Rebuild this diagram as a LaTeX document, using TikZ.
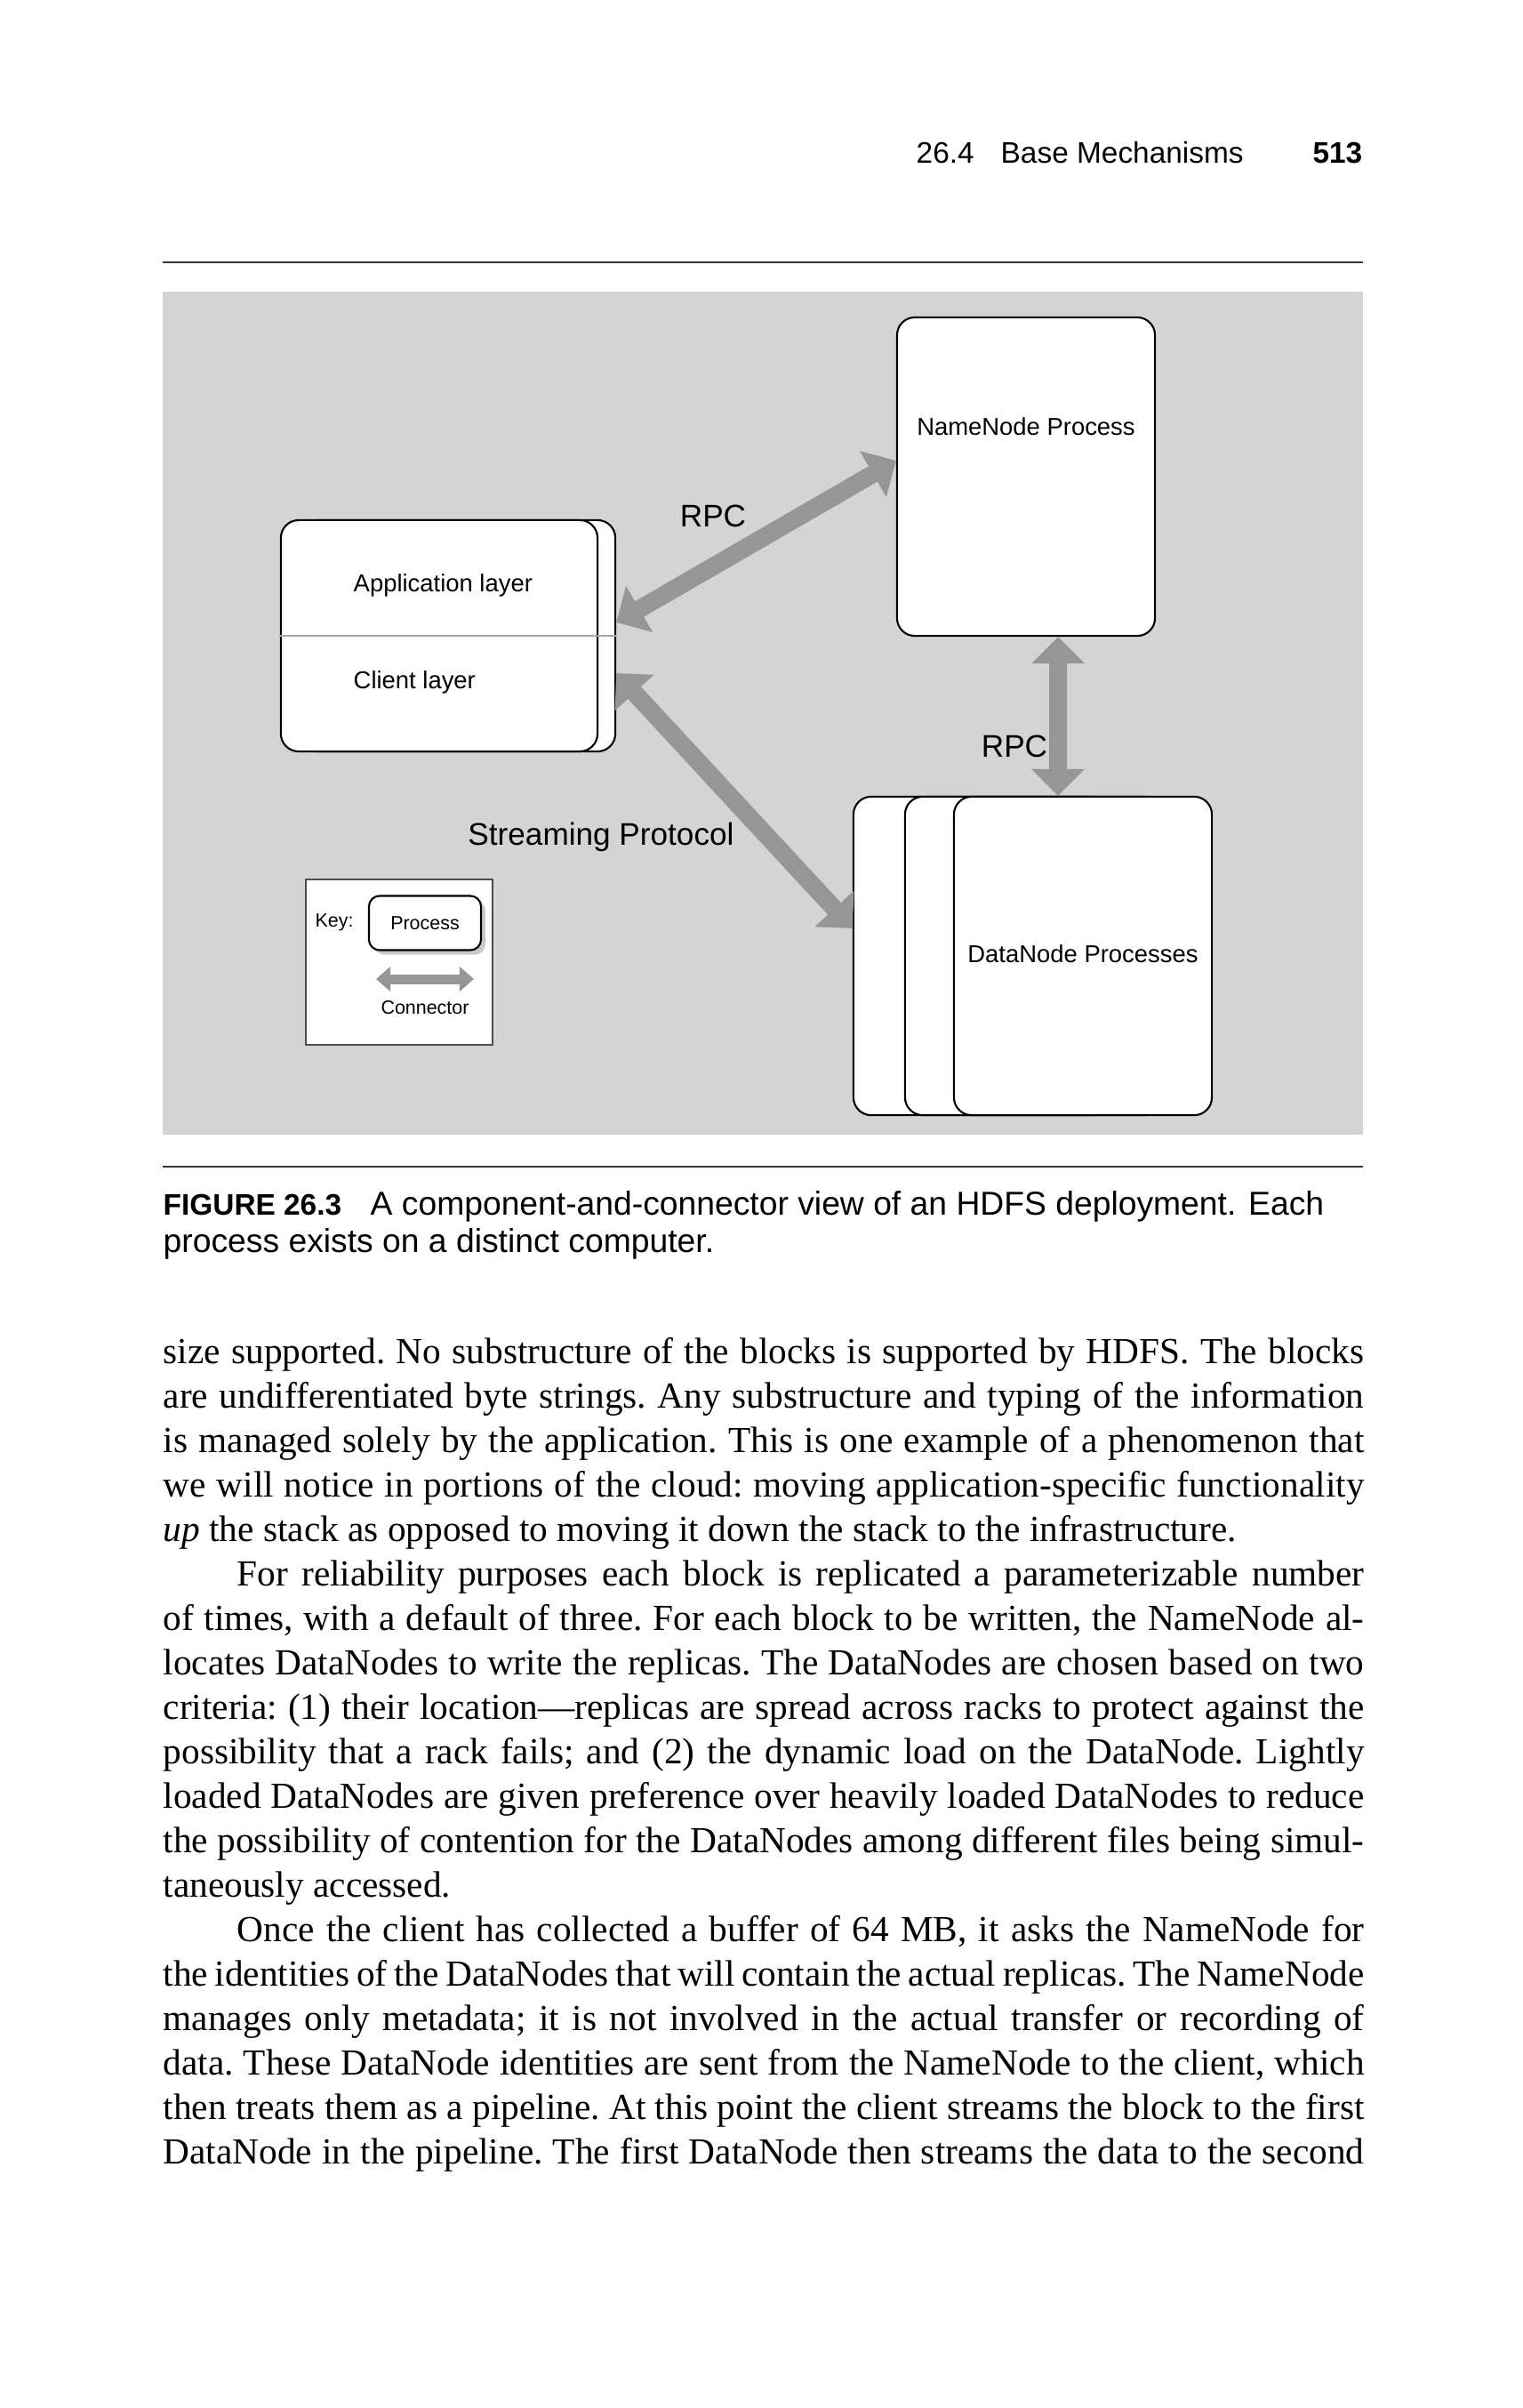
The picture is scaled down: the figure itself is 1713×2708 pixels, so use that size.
\documentclass[tikz,border=0pt]{standalone}
\usepackage{fontspec}
\setmainfont{Liberation Serif}
\setsansfont{Liberation Sans}
\usepackage{tikz}
\usetikzlibrary{arrows.meta,positioning,shadows}

\definecolor{panelgray}{RGB}{212,212,212}
\definecolor{conngray}{RGB}{150,150,150}
\definecolor{rulegray}{RGB}{55,55,55}

\newlength{\colw}
\setlength{\colw}{13.5cm}
\newcommand{\jline}[1]{\hbox to \colw{#1}}

\begin{document}
\begin{tikzpicture}[
    x=0.01cm,y=-0.01cm,
    proc/.style={draw, fill=white, rounded corners=0.2cm, line width=0.6pt, inner sep=0pt,
                 minimum width=2.9cm, minimum height=3.58cm},
    clientbox/.style={proc, minimum width=3.56cm, minimum height=2.6cm},
    lbl/.style={font=\sffamily\fontsize{7.8}{9}\selectfont, inner sep=0pt},
    conlbl/.style={font=\sffamily\fontsize{10}{12}\selectfont, inner sep=0pt},
    keylbl/.style={font=\sffamily\fontsize{6.1}{7}\selectfont, inner sep=0pt},
    conn/.style={{Triangle[length=0.3cm,width=0.58cm]}-{Triangle[length=0.3cm,width=0.58cm]},
                 line width=0.2cm, conngray},
    keyconn/.style={{Triangle[length=0.16cm,width=0.27cm]}-{Triangle[length=0.16cm,width=0.27cm]},
                    line width=0.11cm, conngray},
    hdr/.style={font=\sffamily\fontsize{9.5}{11}\selectfont, inner sep=0pt},
    pagerule/.style={line width=0.8pt, rulegray}
]
\fill[white] (0,0) rectangle (1713,2708);
\useasboundingbox (0,0) rectangle (1713,2708);

% Running head
\node[hdr, anchor=base west] (secnum) at (1030,183) {26.4};
\node[hdr, anchor=base west] (sectitle) at (1125,183) {Base Mechanisms};
\node[hdr, anchor=base east, font=\sffamily\bfseries\fontsize{9.5}{11}\selectfont] (pageno) at (1533,183) {513};
\draw[pagerule] (183,295) -- (1533,295);

% Figure panel
\fill[panelgray] (183,328) rectangle (1533,1276);

% Client (two stacked boxes, split in layers)
\node[clientbox] (clientbk) at (514,715) {};
\node[clientbox] (client) at (494,715) {};
\draw[gray!70, line width=0.6pt] (client.west) -- (clientbk.east);
\node[lbl, anchor=west] (applbl) at (397,658) {Application layer};
\node[lbl, anchor=west] (clilbl) at (397,767) {Client layer};

% NameNode
\node[proc] (namenode) at (1154,536) {};
\node[lbl] (nnlbl) at (1154,480) {NameNode Process};

% DataNodes
\node[proc] (dn1) at (1105,1075) {};
\node[proc] (dn2) at (1163,1075) {};
\node[proc] (dn3) at (1218,1075) {};
\node[lbl] (dnlbl) at (1218,1073) {DataNode Processes};

% Connectors
\draw[conn] ([yshift=0.15cm]clientbk.east) -- ([yshift=0.18cm]namenode.west);
\draw[conn] ([yshift=-0.42cm]clientbk.east) -- ([yshift=0.31cm]dn1.west);
\draw[conn] ([xshift=0.36cm]namenode.south) -- ([xshift=-0.28cm]dn3.north);
\node[conlbl] (rpcup) at (802,580) {RPC};
\node[conlbl] (rpcdown) at (1141,839) {RPC};
\node[conlbl] (streamlbl) at (676,941) {Streaming Protocol};

% Key
\node[draw=gray!60!black, fill=white, line width=0.5pt, inner sep=0pt,
      minimum width=2.1cm, minimum height=1.86cm] (keybox) at (449,1082) {};
\node[keylbl] (keyword) at (376,1037) {Key:};
\node[keylbl, draw, fill=white, line width=0.6pt, rounded corners=0.12cm,
      minimum width=1.26cm, minimum height=0.61cm,
      drop shadow={shadow xshift=0.05cm, shadow yshift=-0.05cm, fill=gray!70, opacity=0.6}] (keyproc) at (478,1038) {Process};
\coordinate (keyl) at (423,1101);
\coordinate (keyr) at (533,1101);
\draw[keyconn] (keyl) -- (keyr);
\node[keylbl] (keyconnlbl) at (478,1133) {Connector};

% Caption
\draw[pagerule] (183,1312) -- (1533,1312);
\node[anchor=base west, inner sep=0pt, font=\sffamily\bfseries\fontsize{9.5}{11}\selectfont] (capno) at (183,1366) {FIGURE 26.3};
\node[anchor=base west, inner sep=0pt, font=\sffamily\fontsize{10.6}{12}\selectfont] (capone) at (416,1366) {A component-and-connector view of an HDFS deployment. Each};
\node[anchor=base west, inner sep=0pt, font=\sffamily\fontsize{10.6}{12}\selectfont] (captwo) at (183,1408) {process exists on a distinct computer.};

% Body text
\node[anchor=base west, inner sep=0pt, font=\rmfamily\fontsize{11.75}{14.226}\selectfont\frenchspacing] (bodytext) at (183,1533) {\vtop{%
\jline{size supported. No substructure of the blocks is supported by HDFS. The blocks}
\jline{are undifferentiated byte strings. Any substructure and typing of the information}
\jline{is managed solely by the application. This is one example of a phenomenon that}
\jline{we will notice in portions of the cloud: moving application-specific functionality}
\hbox{\textit{up} the stack as opposed to moving it down the stack to the infrastructure.}
\jline{\kern0.83cm For reliability purposes each block is replicated a parameterizable number}
\jline{of times, with a default of three. For each block to be written, the NameNode al-}
\jline{locates DataNodes to write the replicas. The DataNodes are chosen based on two}
\jline{criteria: (1) their location---replicas are spread across racks to protect against the}
\jline{possibility that a rack fails; and (2) the dynamic load on the DataNode. Lightly}
\jline{loaded DataNodes are given preference over heavily loaded DataNodes to reduce}
\jline{the possibility of contention for the DataNodes among different files being simul-}
\hbox{taneously accessed.}
\jline{\kern0.83cm Once the client has collected a buffer of 64 MB, it asks the NameNode for}
\jline{the identities of the DataNodes that will contain the actual replicas. The NameNode}
\jline{manages only metadata; it is not involved in the actual transfer or recording of}
\jline{data. These DataNode identities are sent from the NameNode to the client, which}
\jline{then treats them as a pipeline. At this point the client streams the block to the first}
\jline{DataNode in the pipeline. The first DataNode then streams the data to the second}
}};
\end{tikzpicture}
\end{document}
